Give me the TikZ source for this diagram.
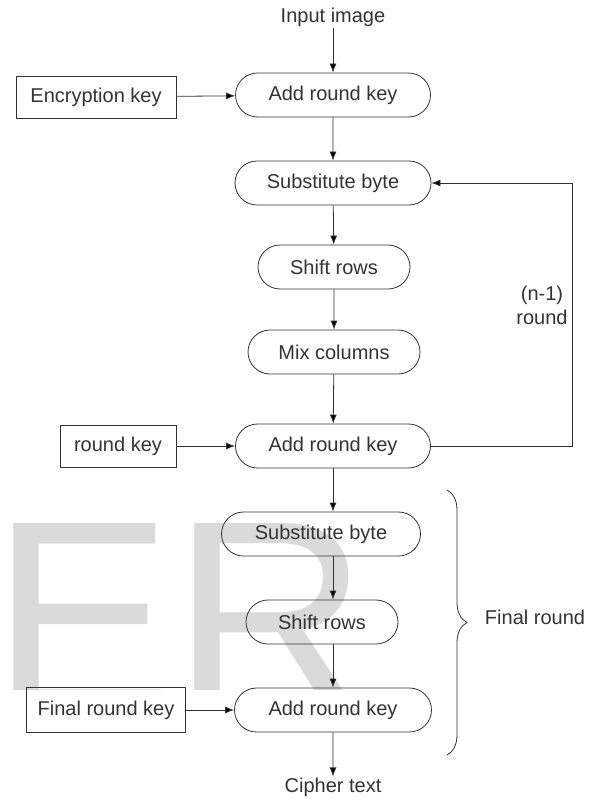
\documentclass[tikz,border=0pt]{standalone}
\usepackage{fontspec}
\setmainfont{Liberation Sans}
\usepackage{xcolor}
\usepackage{tikz}
\usetikzlibrary{arrows.meta, shapes.misc, decorations.pathreplacing, positioning}

\definecolor{inkgray}{HTML}{333333}
\definecolor{markgray}{HTML}{DADADA}

\tikzset{
    stage/.style={rounded rectangle, draw=inkgray, line width=0.8pt, text=inkgray,
        minimum height=44pt, inner xsep=4pt},
    keybox/.style={rectangle, draw=inkgray, line width=0.8pt, text=inkgray,
        minimum height=42pt, inner xsep=4pt},
    plain/.style={text=inkgray, inner sep=1pt},
    flow/.style={draw=inkgray, line width=0.8pt,
        -{Latex[length=9pt,width=7pt,fill=black]}},
}

\begin{document}
\begin{tikzpicture}[x=1pt, y=-1pt, font=\fontsize{20}{24}\selectfont]

        \useasboundingbox (0,0) rectangle (595,799);

        % Watermark behind the flow, cut at its foot
        \begin{scope}
            \clip (0,0) rectangle (595,689);
            \node[anchor=base west, inner sep=0pt, text=markgray,
                  font=\fontsize{272}{272}\selectfont] (mark) at (-9,710) {ER};
        \end{scope}

        % Initial round
        \node[plain] (inp) at (333,17) {Input image};
        \node[stage, minimum width=203pt] (ark1) at (333,95) {Add round key};
        \node[keybox, minimum width=160pt] (enc) at (96,97) {Encryption key};

        % Main rounds
        \node[stage, minimum width=204pt] (sb1) at (333,183) {Substitute byte};
        \node[stage, minimum width=160pt] (sr1) at (334,267) {Shift rows};
        \node[stage, minimum width=180pt] (mc) at (334,352) {Mix columns};
        \node[stage, minimum width=203pt] (ark2) at (333,446) {Add round key};
        \node[keybox, minimum width=116pt] (rk) at (118,446) {round key};
        \node[plain, align=center] (nround) at (542,305) {(n-1)\\round};
        \coordinate (loopr) at (572,183);

        % Final round
        \node[stage, minimum width=207pt] (sb2) at (321,534) {Substitute byte};
        \node[stage, minimum width=160pt] (sr2) at (322,622) {Shift rows};
        \node[stage, minimum width=205pt] (ark3) at (333,710) {Add round key};
        \node[keybox, minimum width=159pt, minimum height=45pt] (frk) at (106,710) {Final round key};
        \node[plain] (ct) at (333,787) {Cipher text};
        \node[plain] (fr) at (535,617) {Final round};

        % Connectors
        \draw[flow] (inp) -- (ark1);
        \draw[flow] (enc) -- (ark1);
        \draw[flow] (ark1) -- (sb1);
        \draw[flow] (sb1) -- (sr1);
        \draw[flow] (sr1) -- (mc);
        \draw[flow] (mc) -- (ark2);
        \draw[flow] (rk) -- (ark2);
        \draw[flow] (ark2.east) -| (loopr) -- (sb1.east);
        \draw[flow] (ark2.south) -- (sb2.north -| ark2.south);
        \draw[flow] (sb2.south -| ark2) -- (sr2.north -| ark2);
        \draw[flow] (sr2.south -| ark3) -- (ark3.north);
        \draw[flow] (frk) -- (ark3);
        \draw[flow] (ark3) -- (ct);

        % Brace round the final round
        \draw[inkgray, line width=0.8pt, decorate, decoration={brace, amplitude=20pt}]
            (447,490) -- (447,755);

    \end{tikzpicture}
\end{document}
